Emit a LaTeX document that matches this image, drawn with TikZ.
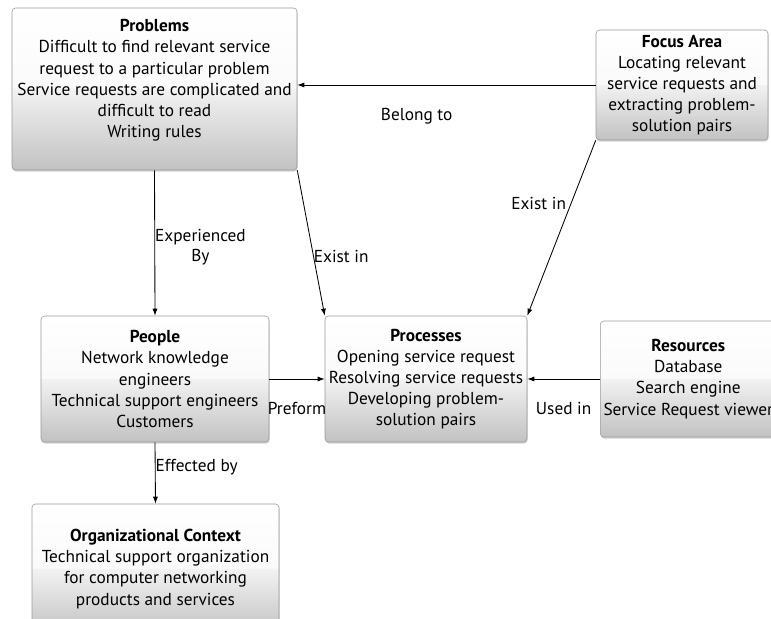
\documentclass[tikz,border=0pt]{standalone}
\usepackage{fontspec}
\setmainfont{PT Sans}
\usepackage{tikz}
\usepackage{xcolor}
\usetikzlibrary{arrows.meta, shadows, positioning, calc}

% glossy box fill: white upper half, grey lower half
\pgfdeclareverticalshading{boxshade}{100bp}{color(0bp)=(black!24); color(25bp)=(black!24); color(50bp)=(black!5); color(50.5bp)=(black!2); color(75bp)=(white); color(100bp)=(white)}

\tikzset{
  topicbox/.style={draw=black!40, rounded corners=2.5pt, shading=boxshade,
    drop shadow={opacity=0.35, shadow xshift=0.4pt, shadow yshift=-1.2pt},
    align=center, font=\fontsize{12.3}{15}\selectfont, inner sep=2pt},
  link/.style={-{Latex[length=5pt,width=3.6pt]}, line width=0.6pt},
  linklabel/.style={font=\fontsize{12.3}{14.5}\selectfont, align=center}
}

\begin{document}
\begin{tikzpicture}
\path[use as bounding box, clip] (0,0) rectangle (19.275,15.475);

% boxes
\node[topicbox, minimum width=7.125cm, minimum height=4.05cm] (probs) at (3.8625,13.25)
  {\textbf{Problems}\\Difficult to find relevant service\\request to a particular problem\\Service requests are complicated and\\difficult to read\\Writing rules\\\mbox{}};
\node[topicbox, minimum width=4.3cm, minimum height=2.75cm] (focus) at (17.05,13.35)
  {\textbf{Focus Area}\\Locating relevant\\service requests and\\extracting problem-\\solution pairs};
\node[topicbox, minimum width=5.7cm, minimum height=3.15cm] (people) at (3.875,6.0)
  {\textbf{People}\\Network knowledge\\engineers\\Technical support engineers\\Customers};
\node[topicbox, minimum width=5.05cm, minimum height=3.15cm] (procs) at (10.65,6.0)
  {\textbf{Processes}\\Opening service request\\Resolving service requests\\Developing problem-\\solution pairs};
\node[topicbox, anchor=west, minimum width=4.4cm, minimum height=2.9cm] (res) at (15.0,6.0)
  {\textbf{Resources}\\Database\\Search engine\\Service Request viewer};
\node[topicbox, minimum width=6.175cm, minimum height=3.25cm] (org) at (3.8875,1.25)
  {\textbf{Organizational Context}\\Technical support organization\\for computer networking\\products and services};

% connectors
\draw[link] (focus.west) -- (focus.west -| probs.east)
  node[linklabel, pos=0.6, below=0.45cm] {Belong to};
\draw[link] (focus.south west) -- (procs.north east)
  node[linklabel, pos=0.36, left] {Exist in};
\draw[link] (probs.south east) -- (procs.north west)
  node[linklabel, pos=0.59, right, inner xsep=0pt] {Exist in};
\draw[link] (probs.south) -- (people.north)
  node[linklabel, pos=0.53, right, inner xsep=0pt] {Experienced\\By};
\draw[link] (people.east) -- (procs.west)
  node[linklabel, midway, below=0.45cm] {Preform};
\draw[link] (res.west) -- (procs.east)
  node[linklabel, midway, below=0.45cm] {Used in};
\draw[link] (people.south) -- (org.north)
  node[linklabel, pos=0.4, right, inner xsep=0pt] {Effected by};
\end{tikzpicture}
\end{document}
